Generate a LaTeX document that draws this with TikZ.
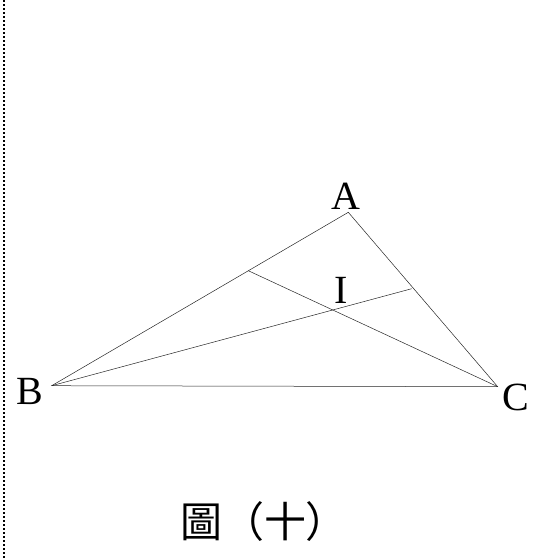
\documentclass[tikz,border=0pt]{standalone}
\usepackage{fontspec}
\setmainfont{Liberation Serif}
\newfontfamily\cjk{Noto Sans CJK TC}
\begin{document}
\begin{tikzpicture}[x=1pt,y=-1pt,
  edge/.style={line width=0.5pt,black!85},
  lbl/.style={inner sep=0pt,font=\fontsize{40}{40}\selectfont},
  captxt/.style={inner sep=0pt,font=\cjk\fontsize{42}{42}\selectfont},
  border/.style={line width=2pt,dash pattern=on 2pt off 2pt}]
\useasboundingbox (0,0) rectangle (542,558);
\draw[border] (4,0) -- (4,558);
\coordinate (A) at (348.3,212.3);
\coordinate (B) at (51.7,385.7);
\coordinate (C) at (497.7,386.7);
\coordinate (D) at (248.3,270.7);
\coordinate (E) at (411.7,288.7);
\draw[edge] (A) -- (B) -- (C) -- cycle;
\draw[edge] (B) -- (E);
\draw[edge] (C) -- (D);
\node[lbl] (la) at (346,196) {A};
\node[lbl] (lb) at (30,391) {B};
\node[lbl] (lc) at (516,397) {C};
\node[lbl] (li) at (341,290) {I};
\node[captxt] (caption) at (264,522) {圖（十）};
\end{tikzpicture}
\end{document}
